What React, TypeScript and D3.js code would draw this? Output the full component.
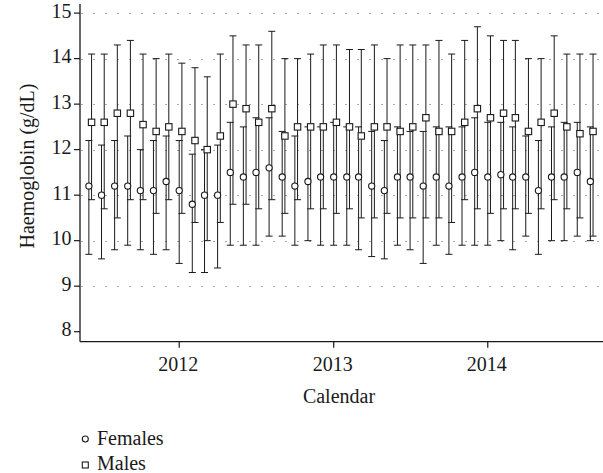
import React from 'react';
import * as d3 from 'd3';

// monthly haemoglobin, mean with error range
const months = [
  '2011-06', '2011-07', '2011-08', '2011-09', '2011-10', '2011-11', '2011-12',
  '2012-01', '2012-02', '2012-03', '2012-04', '2012-05', '2012-06', '2012-07',
  '2012-08', '2012-09', '2012-10', '2012-11', '2012-12',
  '2013-01', '2013-02', '2013-03', '2013-04', '2013-05', '2013-06', '2013-07',
  '2013-08', '2013-09', '2013-10', '2013-11', '2013-12',
  '2014-01', '2014-02', '2014-03', '2014-04', '2014-05', '2014-06', '2014-07',
  '2014-08', '2014-09',
];

const femaleMean = [
  11.2, 11.0, 11.2, 11.2, 11.1, 11.1, 11.3,
  11.1, 10.8, 11.0, 11.0, 11.5, 11.4, 11.5, 11.6, 11.4, 11.2, 11.3, 11.4,
  11.4, 11.4, 11.4, 11.2, 11.1, 11.4, 11.4, 11.2, 11.4, 11.2, 11.4, 11.5,
  11.4, 11.45, 11.4, 11.4, 11.1, 11.4, 11.4, 11.5, 11.3,
];
const femaleLow = [
  9.7, 9.6, 9.8, 9.9, 9.8, 9.7, 9.8,
  9.5, 9.3, 9.3, 9.4, 9.9, 9.9, 9.9, 10.1, 10.1, 9.9, 10.0, 9.9,
  9.9, 9.9, 9.8, 9.65, 9.6, 9.9, 9.8, 9.5, 9.9, 9.7, 9.9, 9.9,
  9.9, 10.0, 9.8, 10.1, 9.7, 10.0, 10.0, 10.1, 10.0,
];
const femaleHigh = [
  12.2, 12.1, 12.2, 12.3, 12.0, 12.2, 12.3,
  12.2, 11.9, 12.0, 12.1, 12.6, 12.5, 12.7, 12.7, 12.4, 12.3, 12.5, 12.5,
  12.6, 12.5, 12.5, 12.4, 12.2, 12.5, 12.4, 12.4, 12.5, 12.5, 12.5, 12.7,
  12.6, 12.6, 12.5, 12.3, 12.2, 12.5, 12.6, 12.6, 12.5,
];

const maleMean = [
  12.6, 12.6, 12.8, 12.8, 12.55, 12.4, 12.5,
  12.4, 12.2, 12.0, 12.3, 13.0, 12.9, 12.6, 12.9, 12.3, 12.5, 12.5, 12.5,
  12.6, 12.5, 12.3, 12.5, 12.5, 12.4, 12.5, 12.7, 12.4, 12.4, 12.6, 12.9,
  12.7, 12.8, 12.7, 12.4, 12.6, 12.8, 12.5, 12.35, 12.4,
];
const maleLow = [
  10.9, 10.7, 10.5, 10.9, 10.9, 10.6, 10.9,
  10.6, 10.4, 10.0, 10.4, 10.8, 10.8, 10.7, 10.9, 10.6, 10.9, 10.7, 10.7,
  10.6, 10.7, 10.5, 10.5, 10.6, 10.5, 10.5, 10.5, 10.5, 10.4, 10.9, 10.7,
  10.6, 10.7, 10.7, 10.6, 10.7, 10.9, 10.7, 10.5, 10.1,
];
const maleHigh = [
  14.1, 14.1, 14.3, 14.4, 14.1, 14.0, 14.1,
  13.9, 13.8, 13.6, 14.1, 14.5, 14.3, 14.3, 14.6, 14.0, 14.0, 14.1, 14.3,
  14.3, 14.2, 14.2, 14.3, 14.0, 14.3, 14.3, 14.3, 14.4, 14.1, 14.4, 14.7,
  14.5, 14.4, 14.4, 14.0, 14.0, 14.5, 14.1, 14.1, 14.1,
];

const yTicks = [8, 9, 10, 11, 12, 13, 14, 15];
const gridValues = [9, 10, 11, 12, 13, 14, 15];
const xTickYears = ['2012', '2013', '2014'];

const W = 603;
const H = 473;
const FONT = '"Liberation Serif", "Times New Roman", serif';
const INK = '#1a1a1a';

const parseMonth = d3.timeParse('%Y-%m');

const x = d3.scaleTime()
  .domain([new Date(2011, 4, 11), new Date(2014, 9, 1)])
  .range([80, 603]);
const y = d3.scaleLinear().domain([7.78, 15.2]).range([341.7, 4]);

const MALE_SHIFT = 2.7;
const CAP = 3.5;

function ErrorBar({ cx, lo, hi }: { cx: number; lo: number; hi: number }) {
  return (
    <g stroke={INK} strokeWidth={1}>
      <line x1={cx} x2={cx} y1={y(lo)} y2={y(hi)} />
      <line x1={cx - CAP} x2={cx + CAP} y1={y(lo)} y2={y(lo)} />
      <line x1={cx - CAP} x2={cx + CAP} y1={y(hi)} y2={y(hi)} />
    </g>
  );
}

export default function App() {
  const dates = months.map((m) => parseMonth(m) as Date);

  return (
    <svg
      width={W}
      height={H}
      style={{ position: 'absolute', left: 0, top: 0, background: '#fff' }}
      fontFamily={FONT}
    >
      {/* dotted grid */}
      {gridValues.map((v) => (
        <line
          key={'g' + v}
          x1={81.5}
          x2={W}
          y1={Math.round(y(v)) + 0.5}
          y2={Math.round(y(v)) + 0.5}
          stroke="#555"
          strokeWidth={1}
          strokeDasharray="1,11"
        />
      ))}

      {/* error bars */}
      {dates.map((d, i) => {
        const cx = x(d);
        return (
          <g key={'eb' + i}>
            <ErrorBar cx={cx} lo={femaleLow[i]} hi={femaleHigh[i]} />
            <ErrorBar cx={cx + MALE_SHIFT} lo={maleLow[i]} hi={maleHigh[i]} />
          </g>
        );
      })}

      {/* markers */}
      {dates.map((d, i) => (
        <g key={'mk' + i} fill="#fff" stroke={INK} strokeWidth={1.1}>
          <circle cx={x(d)} cy={y(femaleMean[i])} r={3.1} />
          <rect
            x={x(d) + MALE_SHIFT - 3.2}
            y={y(maleMean[i]) - 3.2}
            width={6.4}
            height={6.4}
          />
        </g>
      ))}

      {/* y axis */}
      <line x1={80} x2={80} y1={y.range()[1]} y2={y.range()[0]} stroke={INK} strokeWidth={1.3} />
      {yTicks.map((t) => (
        <g key={'yt' + t}>
          <line x1={74} x2={80} y1={y(t)} y2={y(t)} stroke={INK} strokeWidth={1.2} />
          <text x={71.5} y={y(t) + 4.5} textAnchor="end" fontSize={20} fill={INK}>
            {t}
          </text>
        </g>
      ))}

      {/* x axis */}
      <line x1={80} x2={W} y1={341.7} y2={341.7} stroke={INK} strokeWidth={1.3} />
      {xTickYears.map((yr) => {
        const tx = x(new Date(+yr, 0, 1));
        return (
          <g key={'xt' + yr}>
            <line x1={tx} x2={tx} y1={341.7} y2={347.7} stroke={INK} strokeWidth={1.2} />
            <text x={tx - 1} y={371} textAnchor="middle" fontSize={20} fill={INK}>
              {yr}
            </text>
          </g>
        );
      })}

      {/* axis titles */}
      <text x={339} y={403} textAnchor="middle" fontSize={20} fill={INK}>
        Calendar
      </text>
      <text
        transform="translate(34,166) rotate(-90)"
        textAnchor="middle"
        fontSize={20}
        fill={INK}
      >
        Haemoglobin (g/dL)
      </text>

      {/* legend */}
      <circle cx={85.3} cy={439} r={3} fill="#fff" stroke={INK} strokeWidth={1.1} />
      <text x={97} y={445} fontSize={20} fill={INK}>
        Females
      </text>
      <rect x={82.3} y={462} width={6} height={6} fill="#fff" stroke={INK} strokeWidth={1.1} />
      <text x={97} y={470} fontSize={20} fill={INK}>
        Males
      </text>
    </svg>
  );
}
